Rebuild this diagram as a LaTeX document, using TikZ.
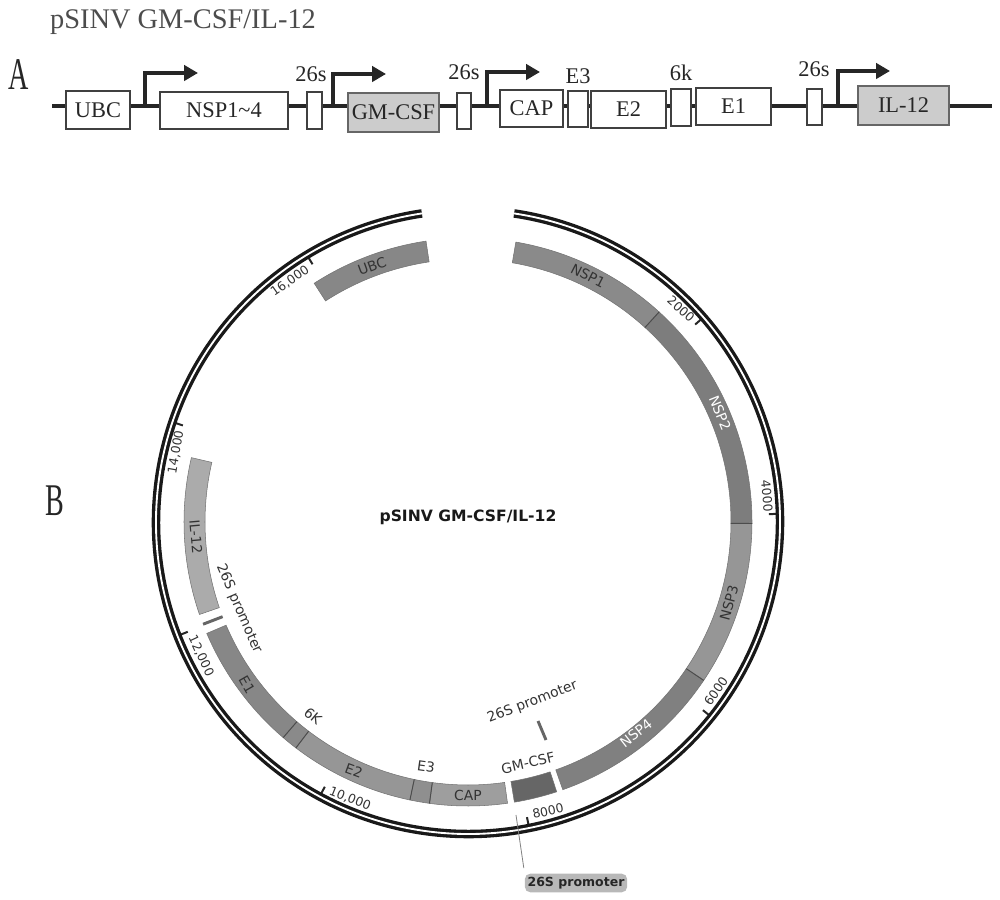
\documentclass[tikz,border=0pt]{standalone}
\usepackage{fontspec}
\usepackage{graphicx}
\setmainfont{Liberation Serif}
\newfontfamily\mapfont{DejaVu Sans}
\usetikzlibrary{arrows.meta,calc}
\definecolor{txtgray}{gray}{0.15}
\tikzset{
  gene/.style={draw=black!75, line width=1.3pt, fill=white, inner sep=0pt, text=txtgray, font=\fontsize{16.8}{18}\selectfont},
  insert/.style={gene, fill=black!20, draw=black!60},
  wire/.style={line width=2.3pt, black!85},
  promo/.style={line width=2.6pt, black!85, -{Triangle[length=10.5pt,width=11.5pt]}},
  head/.style={text=txtgray, font=\fontsize{16.8}{18}\selectfont},
  maplab/.style={text=black!80, inner sep=0pt, font=\mapfont\fontsize{10.4}{11}\selectfont},
  ticklab/.style={maplab, font=\mapfont\fontsize{9.3}{10}\selectfont},
  band/.style={draw=black!55, line width=0.4pt},
  sep/.style={black!70, line width=0.7pt}
}
% one feature of the map: start angle, end angle, grey level
\newcommand{\feature}[3]{\filldraw[band, fill=black!#3] (#1:263) arc[start angle=#1, end angle=#2, radius=263] -- (#2:284) arc[start angle=#2, end angle=#1, radius=284] -- cycle;}
\begin{document}
\begin{tikzpicture}[x=0.75pt,y=0.75pt]
  \useasboundingbox (0,0) rectangle (1000,900);
  \node[text=black!70, font=\fontsize{21.3}{24}\selectfont] (title) at (183,878) {pSINV GM-CSF/IL-12};
  \node[text=txtgray] (partA) at (19,825) {\scalebox{0.62}[1]{\fontsize{34}{36}\selectfont A}};
  \node[text=txtgray] (partB) at (55,399) {\scalebox{0.62}[1]{\fontsize{34}{36}\selectfont B}};

  % linear map
  \coordinate (lstart) at (52,794);
  \coordinate (lend) at (992,794);
  \node[gene, minimum width=48pt, minimum height=28.5pt] (ubc) at (98,790) {UBC};
  \node[gene, minimum width=96pt, minimum height=28pt] (nsp) at (224,789.5) {NSP1\textasciitilde4};
  \node[gene, minimum width=11pt, minimum height=28pt] (sa) at (314.5,789.5) {};
  \node[insert, minimum width=68pt, minimum height=29pt] (gm) at (393.5,787.5) {GM-CSF};
  \node[gene, minimum width=11pt, minimum height=27.5pt] (sb) at (464,789) {};
  \node[gene, minimum width=47pt, minimum height=28pt] (cap) at (531.5,791.5) {CAP};
  \node[gene, minimum width=15pt, minimum height=27pt] (ethree) at (578,791) {};
  \node[gene, minimum width=56pt, minimum height=28pt] (etwo) at (628.5,790.5) {E2};
  \node[gene, minimum width=15pt, minimum height=28pt] (sixk) at (681,792.5) {};
  \node[gene, minimum width=56pt, minimum height=28pt] (eone) at (733.5,793.5) {E1};
  \node[gene, minimum width=11pt, minimum height=27pt] (sc) at (814.5,793) {};
  \node[insert, minimum width=68pt, minimum height=29pt] (il) at (903.5,794.5) {IL-12};
  \draw[wire] (lstart) -- (ubc.west |- lstart);
  \foreach \a/\b in {ubc/nsp,nsp/sa,sa/gm,gm/sb,sb/cap,cap/ethree,ethree/etwo,etwo/sixk,sixk/eone,eone/sc,sc/il}
    \draw[wire] (\a.east |- lstart) -- (\b.west |- lstart);
  \draw[wire] (il.east |- lstart) -- (lend);
  \node[head] (la) at (311,826) {26s};
  \node[head] (lb) at (464,828) {26s};
  \node[head] (lc) at (814,831) {26s};
  \node[head] (le) at (578,824) {E3};
  \node[head] (lk) at (681,827) {6k};
  \foreach \x/\y/\e in {145/827/198,333/826/386,487/828/540,838/829/890}{
    \coordinate (pa\x) at (\x,794);
    \coordinate (pb\x) at (\e,\y);
    \draw[promo] (pa\x) |- (pb\x);
  }

  % circular map
  \begin{scope}[shift={(468,378)}]
    \foreach \t in {41,1.5,-38.7,-78.7,-118.4,-158.6,161.3,121.1}
      \draw[black!85, line width=1.5pt] (\t:301) -- (\t:310);
    \draw[black!90, line width=6.4pt] (81.5:312) arc[start angle=81.5, end angle=-261.5, radius=312];
    \draw[white, line width=1.4pt] (81.5:312) arc[start angle=81.5, end angle=-261.5, radius=312];
    \feature{98.5}{122.8}{47}
    \feature{80.3}{47.7}{46}
    \feature{47.7}{-0.3}{51}
    \feature{-0.3}{-33.9}{41}
    \feature{-33.9}{-70.5}{50}
    \feature{-71.8}{-80.6}{60}
    \feature{-82}{-97.8}{38}
    \feature{-97.8}{-101.8}{44}
    \feature{-101.8}{-127.3}{41}
    \feature{-127.3}{-130.6}{46}
    \feature{-130.6}{-156.9}{47}
    \feature{-161}{-193.1}{33}
    \foreach \t in {47.7,-0.3,-33.9,-97.8,-101.8,-127.3,-130.6}
      \draw[sep] (\t:263) -- (\t:284);
    \draw[black!60, line width=2.2pt] (-158.9:263) -- (-158.9:284);
  \end{scope}
  \draw[black!60, line width=2.2pt] (538,179) -- (546,160);

  \node[ticklab] (n2k) at (681,591) [rotate=-42] {2000};
  \node[ticklab] (n4k) at (767,404) [rotate=-85] {4000};
  \node[ticklab] (n6k) at (716,209) [rotate=55] {6000};
  \node[ticklab] (n8k) at (548,89) [rotate=12] {8000};
  \node[ticklab] (n10k) at (350,101) [rotate=-22] {10,000};
  \node[ticklab] (n12k) at (201,244) [rotate=-65] {12,000};
  \node[ticklab] (n14k) at (176,448) [rotate=80] {14,000};
  \node[ticklab] (n16k) at (290,619) [rotate=35] {16,000};

  \node[maplab] (mubc) at (372,634) [rotate=20] {UBC};
  \node[maplab] (mnspa) at (588,624) [rotate=-27] {NSP1};
  \node[maplab, text=white] (mnspb) at (720,487) [rotate=-68] {NSP2};
  \node[maplab] (mnspc) at (729,297) [rotate=75] {NSP3};
  \node[maplab, text=white] (mnspd) at (636,167) [rotate=38] {NSP4};
  \node[maplab] (mcap) at (468,105) {CAP};
  \node[maplab] (metwo) at (354,129) [rotate=-20] {E2};
  \node[maplab] (methree) at (426,133) [rotate=-8] {E3};
  \node[maplab] (mgm) at (528,137) [rotate=13] {GM-CSF};
  \node[maplab] (msix) at (313,184) [rotate=-40] {6K};
  \node[maplab] (meone) at (247,215) [rotate=-60] {E1};
  \node[maplab] (mil) at (196,363) [rotate=-85] {IL-12};
  \node[maplab] (mpa) at (239,291) [rotate=-66.5] {26S promoter};
  \node[maplab] (mpb) at (532.5,198) [rotate=21] {26S promoter};
  \node[text=black!90, font=\mapfont\bfseries\fontsize{11.7}{13}\selectfont] (name) at (468,383) {pSINV GM-CSF/IL-12};

  \coordinate (ptr) at (516,85);
  \node[fill=black!28, rounded corners=4pt, inner xsep=2pt, inner ysep=2.5pt, text=black!85, font=\mapfont\bfseries\fontsize{9.4}{10}\selectfont] (pill) at (576,17) {26S promoter};
  \draw[black!50, line width=0.6pt, shorten >=4pt] (ptr) -- (pill.north west);
\end{tikzpicture}
\end{document}
